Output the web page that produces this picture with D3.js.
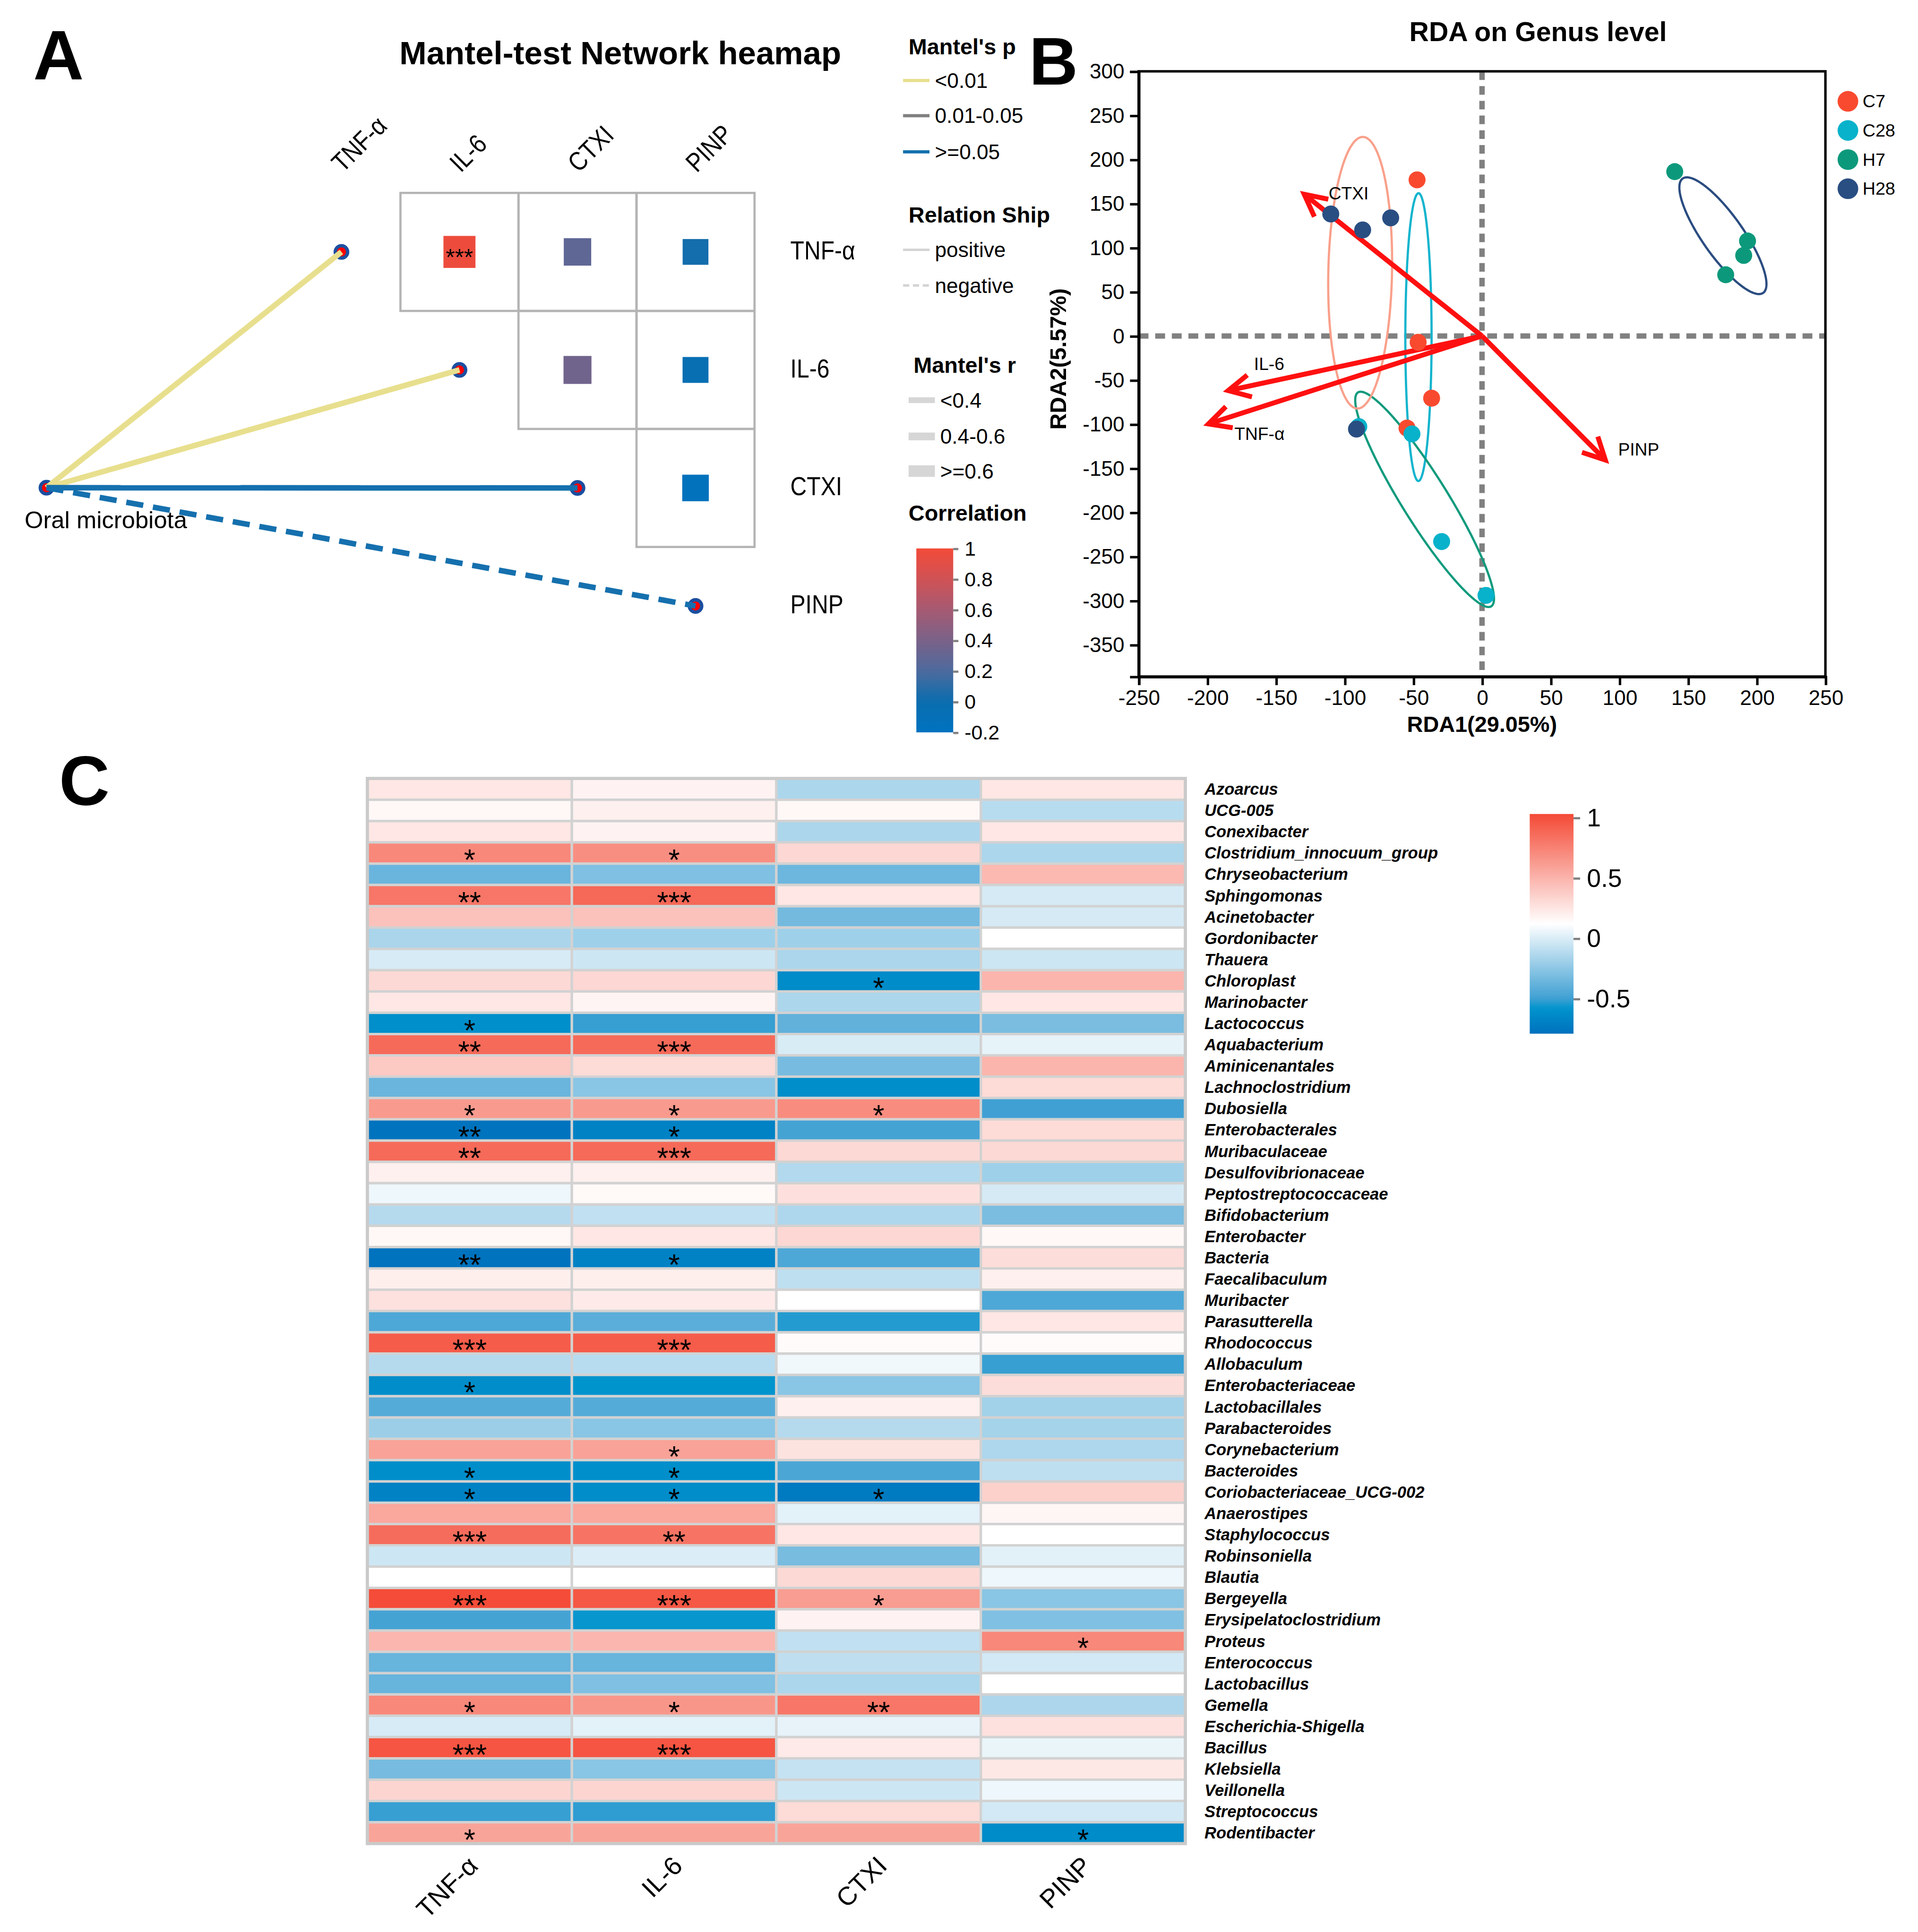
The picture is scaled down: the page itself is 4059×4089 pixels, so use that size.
<!DOCTYPE html>
<html>
<head>
<meta charset="utf-8">
<title>Mantel network, RDA and correlation heatmap</title>
<script src="https://cdn.jsdelivr.net/npm/d3@7/dist/d3.min.js"></script>
<style>
html,body{margin:0;padding:0;background:#ffffff;}
svg{display:block;}
svg text{font-family:"Liberation Sans",Arial,Helvetica,sans-serif;fill:#000;}
</style>
</head>
<body>
<svg id="fig" width="4059" height="4089" viewBox="0 0 1560 1571.5" xmlns="http://www.w3.org/2000/svg"></svg>
<script>
// ================= DATA =================
// ---- Panel A : Mantel-test network heatmap
const mantelVars   = ["TNF-α","IL-6","CTXI","PINP"];
const mantelSource = "Oral microbiota";
const mantelP      = ["<0.01","<0.01",">=0.05",">=0.05"];
const mantelSign   = ["positive","positive","positive","negative"];
const mantelRClass = ["<0.4","<0.4","<0.4","<0.4"];
const pairRow = [0,0,0,1,1,2];
const pairCol = [1,2,3,2,3,3];
const pairR   = [0.97,0.28,0.03,0.36,-0.05,-0.15];
const pairSig = ["***","","","","",""];
const pClasses    = ["<0.01","0.01-0.05",">=0.05"];
const signClasses = ["positive","negative"];
const rClasses    = ["<0.4","0.4-0.6",">=0.6"];
const corrTicksA  = [-0.2,0,0.2,0.4,0.6,0.8,1];

// ---- Panel B : RDA on genus level
const groups      = ["C7","C28","H7","H28"];
const sampleGroup = ["C7","C7","C7","C7","C28","C28","C28","C28","H7","H7","H7","H7","H28","H28","H28","H28"];
const rda1 = [-47.3,-46.5,-36.7,-54.6, -89.7,-51.0,-29.4,2.9, 140.3,193.3,190.5,177.4, -110.1,-86.9,-66.5,-91.4];
const rda2 = [177.0,-7.1,-70.5,-104.4, -102.7,-111.0,-233.0,-294.0, 186.3,107.7,91.3,69.4, 138.3,120.2,133.9,-105.5];
const envNames     = ["CTXI","IL-6","TNF-α","PINP"];
const envRDA1      = [-131.7,-187.6,-201.9,91.8];
const envRDA2      = [163.4,-62.8,-101.0,-143.7];
const envLabelRDA1 = [-111.7,-166.0,-180.3,99.1];
const envLabelRDA2 = [155.0,-38.7,-118.0,-135.4];
const rdaXTicks = [-250,-200,-150,-100,-50,0,50,100,150,200,250];
const rdaYTicks = [-350,-300,-250,-200,-150,-100,-50,0,50,100,150,200,250,300];
const rdaXTitle = "RDA1(29.05%)";
const rdaYTitle = "RDA2(5.57%)";

// ---- Panel C : correlation heatmap
const heatVars = ["TNF-α","IL-6","CTXI","PINP"];
const genera = ["Azoarcus","UCG-005","Conexibacter","Clostridium_innocuum_group","Chryseobacterium","Sphingomonas","Acinetobacter","Gordonibacter","Thauera","Chloroplast","Marinobacter","Lactococcus","Aquabacterium","Aminicenantales","Lachnoclostridium","Dubosiella","Enterobacterales","Muribaculaceae","Desulfovibrionaceae","Peptostreptococcaceae","Bifidobacterium","Enterobacter","Bacteria","Faecalibaculum","Muribacter","Parasutterella","Rhodococcus","Allobaculum","Enterobacteriaceae","Lactobacillales","Parabacteroides","Corynebacterium","Bacteroides","Coriobacteriaceae_UCG-002","Anaerostipes","Staphylococcus","Robinsoniella","Blautia","Bergeyella","Erysipelatoclostridium","Proteus","Enterococcus","Lactobacillus","Gemella","Escherichia-Shigella","Bacillus","Klebsiella","Veillonella","Streptococcus","Rodentibacter"];
const heatTNF  = [0.24,0.155,0.24,0.72,-0.36,0.81,0.43,-0.155,-0.01,0.31,0.24,-0.61,0.87,0.39,-0.36,0.63,-0.78,0.87,0.195,0.065,-0.12,0.155,-0.78,0.2,0.27,-0.45,0.94,-0.12,-0.62,-0.43,-0.2,0.59,-0.615,-0.69,0.56,0.86,-0.045,0.12,1.02,-0.48,0.48,-0.37,-0.37,0.72,-0.013,0.975,-0.32,0.33,-0.51,0.58];
const heatIL6  = [0.18,0.195,0.18,0.69,-0.29,0.88,0.43,-0.19,-0.04,0.32,0.175,-0.51,0.87,0.30,-0.26,0.63,-0.69,0.87,0.195,0.15,-0.08,0.24,-0.69,0.2,0.22,-0.41,0.94,-0.11,-0.58,-0.43,-0.26,0.59,-0.61,-0.62,0.56,0.82,0.004,0.12,0.96,-0.57,0.48,-0.37,-0.29,0.65,0.03,0.975,-0.26,0.33,-0.52,0.58];
const heatCTXI = [-0.15,0.155,-0.15,0.32,-0.35,0.24,-0.33,-0.19,-0.15,-0.634,-0.15,-0.39,-0.005,-0.32,-0.615,0.70,-0.48,0.31,-0.13,0.275,-0.14,0.32,-0.45,-0.09,0.12,-0.534,0.14,0.075,-0.26,0.195,-0.12,0.26,-0.46,-0.736,0.03,0.24,-0.316,0.31,0.62,0.18,-0.08,-0.087,-0.15,0.81,0.042,0.225,-0.067,-0.04,0.30,0.58];
const heatPINP = [0.24,-0.11,0.24,-0.15,0.47,-0.016,-0.016,0.12,-0.045,0.49,0.24,-0.31,0.04,0.49,0.30,-0.497,0.30,0.31,-0.19,-0.016,-0.31,0.155,0.29,0.195,-0.45,0.24,0.14,-0.51,0.29,-0.18,-0.17,-0.14,-0.09,0.35,0.165,0.12,0.026,0.065,-0.26,-0.29,0.72,-0.022,0.12,-0.145,0.27,0.052,0.235,0.065,-0.022,-0.634];
const sigTNF  = ["","","","*","","**","","","","", "","*","**","","","*","**","**","","", "","","**","","","","***","","*","", "","","*","*","","***","","","***","", "","","","*","","***","","","","*"];
const sigIL6  = ["","","","*","","***","","","","", "","","***","","","*","*","***","","", "","","*","","","","***","","","", "","*","*","*","","**","","","***","", "","","","*","","***","","","",""];
const sigCTXI = ["","","","","","","","","","*", "","","","","","*","","","","", "","","","","","","","","","", "","","","*","","","","","*","", "","","","**","","","","","",""];
const sigPINP = ["","","","","","","","","","", "","","","","","","","","","", "","","","","","","","","","", "","","","","","","","","","", "*","","","","","","","","","*"];
const corrTicksC = [-0.5,0,0.5,1];

// ================= DRAWING =================
const svg = d3.select("#fig");
const FF = '"Liberation Sans",Arial,Helvetica,sans-serif';
const defs = svg.append("defs");
const fmt = v => String(+v.toFixed(2));

function label(g, x, y, s, o = {}) {
  const t = g.append("text")
    .attr("x", x).attr("y", y).text(s)
    .attr("font-size", o.size || 16)
    .attr("font-weight", o.weight || "normal")
    .attr("font-style", o.style || "normal")
    .attr("text-anchor", o.anchor || "start");
  if (o.transform) t.attr("transform", o.transform);
  return t;
}

// ---------- Panel letters ----------
label(svg, 27, 64.7, "A", {size: 57, weight: "bold"});
label(svg, 837, 68.6, "B", {size: 55, weight: "bold"});
label(svg, 48, 655, "C", {size: 57, weight: "bold"});

// ---------- Panel A ----------
const gA = svg.append("g");
label(gA, 504.5, 52.2, "Mantel-test Network heamap", {size: 26.5, weight: "bold", anchor: "middle"});

const aX = d3.scaleBand().domain(mantelVars).range([229.7, 613.7]);
const aY = d3.scaleBand().domain(mantelVars).range([156.9, 540.9]);
const abw = aX.bandwidth();
const aColor = d3.scaleLinear()
  .domain([-0.2, 0, 0.2, 0.4, 0.6, 0.8, 1])
  .range(["#0073C0", "#0A6DAE", "#4D6A9E", "#7A6288", "#A65A73", "#D05255", "#F24B39"])
  .clamp(true);
const aSize = d3.scaleLinear().domain([0, 1]).range([20.8, 26.2]);

pairRow.forEach((r, i) => {
  const c = pairCol[i];
  gA.append("rect")
    .attr("x", aX(mantelVars[c])).attr("y", aY(mantelVars[r]))
    .attr("width", abw).attr("height", abw)
    .attr("fill", "none").attr("stroke", "#B4B4B4").attr("stroke-width", 1.8);
});
pairRow.forEach((r, i) => {
  const c = pairCol[i];
  const cx = aX(mantelVars[c]) + abw / 2, cy = aY(mantelVars[r]) + abw / 2;
  const s = aSize(Math.abs(pairR[i]));
  gA.append("rect")
    .attr("x", cx - s / 2).attr("y", cy - s / 2).attr("width", s).attr("height", s)
    .attr("fill", aColor(pairR[i]));
  if (pairSig[i]) {
    label(gA, cx, cy + 0.575 * 19, pairSig[i], {size: 19, anchor: "middle"});
  }
});

mantelVars.forEach(v => {
  const cx = aX(v) + abw / 2 + 1;
  label(gA, 0, 0, v, {size: 21.5, transform: `translate(${cx},141) rotate(-45) scale(0.86,1)`});
  const cy = aY(v) + abw / 2 + 6;
  label(gA, 0, 0, v, {size: 21.5, transform: `translate(642.8,${cy}) scale(0.86,1)`});
});

const pColor = {"<0.01": "#E8DF8E", "0.01-0.05": "#808080", ">=0.05": "#1570AE"};
const rWidth = {"<0.4": 4.5, "0.4-0.6": 6.3, ">=0.6": 9.0};
const srcX = 37.8, srcY = 396.7;
function node(g, x, y) {
  g.append("circle").attr("cx", x).attr("cy", y).attr("r", 5.05)
    .attr("fill", "#FF0000").attr("stroke", "#1B4FA0").attr("stroke-width", 2.7);
}
mantelVars.forEach(v => node(gA, aX(v) + abw / 2, aY(v) + abw / 2));
node(gA, srcX, srcY);
mantelVars.forEach((v, i) => {
  gA.append("line")
    .attr("x1", srcX).attr("y1", srcY)
    .attr("x2", aX(v) + abw / 2).attr("y2", aY(v) + abw / 2)
    .attr("stroke", pColor[mantelP[i]])
    .attr("stroke-width", rWidth[mantelRClass[i]])
    .attr("stroke-dasharray", mantelSign[i] === "negative" ? "14,8" : null);
});
label(gA, 20, 429.5, mantelSource, {size: 19.5});

// legends for A
const lgA = svg.append("g");
label(lgA, 739, 44.3, "Mantel's p", {size: 18, weight: "bold"});
const pY = [65.5, 94.1, 123.5];
pClasses.forEach((p, i) => {
  lgA.append("line").attr("x1", 734.5).attr("x2", 756).attr("y1", pY[i]).attr("y2", pY[i])
    .attr("stroke", pColor[p]).attr("stroke-width", 2.6);
  label(lgA, 760.4, pY[i] + 6, p, {size: 17});
});
label(lgA, 739, 181.2, "Relation Ship", {size: 18, weight: "bold"});
const sY = [203.2, 232.2];
signClasses.forEach((s, i) => {
  lgA.append("line").attr("x1", 734.5).attr("x2", 756).attr("y1", sY[i]).attr("y2", sY[i])
    .attr("stroke", "#D3D3D3").attr("stroke-width", 2)
    .attr("stroke-dasharray", s === "negative" ? "5,3" : null);
  label(lgA, 760.4, sY[i] + 6, s, {size: 17});
});
label(lgA, 743, 303.2, "Mantel's r", {size: 18, weight: "bold"});
const rY = [325.5, 355, 383.2];
const rLegH = [4.7, 6.3, 9.4];
rClasses.forEach((r, i) => {
  lgA.append("rect").attr("x", 739).attr("width", 21.4)
    .attr("y", rY[i] - rLegH[i] / 2).attr("height", rLegH[i]).attr("fill", "#D6D6D6");
  label(lgA, 764.7, rY[i] + 6, r, {size: 17});
});
label(lgA, 739, 423.6, "Correlation", {size: 18, weight: "bold"});

const cbAy = d3.scaleLinear().domain([-0.2, 1]).range([595.7, 446.1]);
const gradA = defs.append("linearGradient").attr("id", "gradA")
  .attr("x1", 0).attr("y1", 1).attr("x2", 0).attr("y2", 0);
d3.range(0, 1.0001, 0.05).forEach(t => {
  const v = -0.2 + 1.2 * t;
  gradA.append("stop").attr("offset", t).attr("stop-color", aColor(v));
});
lgA.append("rect").attr("x", 745.3).attr("y", cbAy(1)).attr("width", 30)
  .attr("height", cbAy(-0.2) - cbAy(1)).attr("fill", "url(#gradA)");
const axA = lgA.append("g").attr("transform", "translate(775.3,0)")
  .call(d3.axisRight(cbAy).tickValues(corrTicksA).tickSize(4.2).tickPadding(5).tickFormat(fmt));
axA.select(".domain").remove();
axA.selectAll(".tick line").attr("stroke", "#808080").attr("stroke-width", 1.8);
axA.selectAll(".tick text").attr("font-size", 16.5).attr("font-family", FF).attr("fill", "#000");

// ---------- Panel B ----------
const gB = svg.append("g");
const bx = d3.scaleLinear().domain([-250, 250]).range([926.1, 1484.7]);
const by = d3.scaleLinear().domain([-386, 300]).range([550.3, 58]);

label(gB, 1251, 33.3, "RDA on Genus level", {size: 22, weight: "bold", anchor: "middle"});

gB.append("line").attr("x1", bx(-250)).attr("x2", bx(250)).attr("y1", by(0)).attr("y2", by(0))
  .attr("stroke", "#808080").attr("stroke-width", 4.4).attr("stroke-dasharray", "8,5.5");
gB.append("line").attr("x1", bx(0)).attr("x2", bx(0)).attr("y1", by(300)).attr("y2", by(-386))
  .attr("stroke", "#808080").attr("stroke-width", 4.4).attr("stroke-dasharray", "7,5");

const ellipseStroke = {"C7": "#12B4CD", "C28": "#0F9A7D", "H7": "#2A4C80", "H28": "#F9A08B"};
function ellipsePts(xs, ys, k) {
  const n = xs.length, mx = d3.mean(xs), my = d3.mean(ys);
  let sxx = 0, syy = 0, sxy = 0;
  for (let i = 0; i < n; i++) {
    const dx = xs[i] - mx, dy = ys[i] - my;
    sxx += dx * dx; syy += dy * dy; sxy += dx * dy;
  }
  sxx /= (n - 1); syy /= (n - 1); sxy /= (n - 1);
  const tr = (sxx + syy) / 2, df = (sxx - syy) / 2, rt = Math.sqrt(df * df + sxy * sxy);
  const l1 = tr + rt, l2 = Math.max(tr - rt, 0);
  let v1 = Math.abs(sxy) > 1e-9 ? [sxy, l1 - sxx] : (sxx >= syy ? [1, 0] : [0, 1]);
  const len = Math.hypot(v1[0], v1[1]); v1 = [v1[0] / len, v1[1] / len];
  const v2 = [-v1[1], v1[0]];
  const a = k * Math.sqrt(l1), b = k * Math.sqrt(l2);
  return d3.range(0, 360, 2).map(deg => {
    const t = deg * Math.PI / 180;
    return [mx + a * Math.cos(t) * v1[0] + b * Math.sin(t) * v2[0],
            my + a * Math.cos(t) * v1[1] + b * Math.sin(t) * v2[1]];
  });
}
const ellLine = d3.line().x(d => bx(d[0])).y(d => by(d[1])).curve(d3.curveLinearClosed);
groups.forEach(gname => {
  const idx = sampleGroup.map((g, i) => g === gname ? i : -1).filter(i => i >= 0);
  const pts = ellipsePts(idx.map(i => rda1[i]), idx.map(i => rda2[i]), 1.3);
  gB.append("path").attr("d", ellLine(pts)).attr("fill", "none")
    .attr("stroke", ellipseStroke[gname]).attr("stroke-width", 1.8);
});

const arrowRed = "#FF1010";
envNames.forEach((nm, i) => {
  const x0 = bx(0), y0 = by(0), x1 = bx(envRDA1[i]), y1 = by(envRDA2[i]);
  const ang = Math.atan2(y1 - y0, x1 - x0);
  const tipX = x1 - 3.2 * Math.cos(ang), tipY = y1 - 3.2 * Math.sin(ang);
  gB.append("line").attr("x1", x0).attr("y1", y0).attr("x2", tipX).attr("y2", tipY)
    .attr("stroke", arrowRed).attr("stroke-width", 4);
  const L = 20, h = 27 * Math.PI / 180, back = ang + Math.PI;
  const w1 = [tipX + L * Math.cos(back + h), tipY + L * Math.sin(back + h)];
  const w2 = [tipX + L * Math.cos(back - h), tipY + L * Math.sin(back - h)];
  gB.append("path").attr("d", `M${w1[0]},${w1[1]}L${tipX},${tipY}L${w2[0]},${w2[1]}`)
    .attr("fill", "none").attr("stroke", arrowRed).attr("stroke-width", 4)
    .attr("stroke-linejoin", "miter").attr("stroke-miterlimit", 10);
});

const groupColor = {"C7": "#F94A2F", "C28": "#07B2CA", "H7": "#0C997B", "H28": "#294E82"};
gB.selectAll("circle.pt").data(d3.range(rda1.length)).enter().append("circle")
  .attr("class", "pt")
  .attr("cx", i => bx(rda1[i])).attr("cy", i => by(rda2[i])).attr("r", 6.9)
  .attr("fill", i => groupColor[sampleGroup[i]]);

envNames.forEach((nm, i) => {
  label(gB, bx(envLabelRDA1[i]), by(envLabelRDA2[i]), nm, {size: 14.3});
});

gB.append("rect").attr("x", bx(-250)).attr("y", by(300))
  .attr("width", bx(250) - bx(-250)).attr("height", by(-386) - by(300))
  .attr("fill", "none").attr("stroke", "#000").attr("stroke-width", 2);
const axBx = gB.append("g").attr("transform", `translate(0,${by(-386)})`)
  .call(d3.axisBottom(bx).tickValues(rdaXTicks).tickSize(7).tickPadding(4).tickFormat(d => String(d)));
const axBy = gB.append("g").attr("transform", `translate(${bx(-250)},0)`)
  .call(d3.axisLeft(by).tickValues(rdaYTicks).tickSize(7).tickPadding(4.5).tickFormat(d => String(d)));
[axBx, axBy].forEach(ax => {
  ax.select(".domain").attr("stroke", "#000").attr("stroke-width", 2);
  ax.selectAll(".tick line").attr("stroke", "#000").attr("stroke-width", 2);
  ax.selectAll(".tick text").attr("font-size", 17).attr("font-family", FF).attr("fill", "#000");
});
label(gB, 1205.4, 595.5, rdaXTitle, {size: 18, weight: "bold", anchor: "middle"});
label(gB, 0, 0, rdaYTitle, {size: 18.5, weight: "bold", anchor: "middle", transform: "translate(867,292) rotate(-90)"});

const legBY = [82.4, 106.1, 129.8, 153.5];
groups.forEach((gname, i) => {
  gB.append("circle").attr("cx", 1503).attr("cy", legBY[i]).attr("r", 8.4).attr("fill", groupColor[gname]);
  label(gB, 1514.9, legBY[i] + 5, gname, {size: 14.5});
});

// ---------- Panel C ----------
const gC = svg.append("g");
const hx = d3.scaleBand().domain(heatVars).range([298.8, 964.1]);
const hy = d3.scaleBand().domain(genera).range([633.2, 1499.6]);
const hColor = d3.scaleLinear()
  .domain([-0.79, -0.58, -0.5, 0.12, 1.03])
  .range(["#0071BD", "#0094CD", "#3FA0D3", "#FFFFFF", "#F44A36"])
  .clamp(true);
const heatVals = [heatTNF, heatIL6, heatCTXI, heatPINP];
const heatSig  = [sigTNF, sigIL6, sigCTXI, sigPINP];
const cells = [];
heatVars.forEach((v, j) => genera.forEach((g, i) => cells.push({v, g, r: heatVals[j][i], s: heatSig[j][i]})));
gC.selectAll("rect.cell").data(cells).enter().append("rect")
  .attr("class", "cell")
  .attr("x", d => hx(d.v)).attr("y", d => hy(d.g))
  .attr("width", hx.bandwidth()).attr("height", hy.bandwidth())
  .attr("fill", d => hColor(d.r)).attr("stroke", "#D2D2D2").attr("stroke-width", 2);
gC.append("rect").attr("x", 298.8).attr("y", 633.2).attr("width", 964.1 - 298.8).attr("height", 1499.6 - 633.2)
  .attr("fill", "none").attr("stroke", "#CACACA").attr("stroke-width", 2.6);

// significance marks: one text element per column, one tspan per significant cell
const starSize = 24;
heatVars.forEach((v, j) => {
  const t = gC.append("text").attr("font-size", starSize).attr("text-anchor", "middle");
  genera.forEach((g, i) => {
    const s = heatSig[j][i];
    if (!s) return;
    t.append("tspan")
      .attr("x", hx(v) + hx.bandwidth() / 2)
      .attr("y", hy(g) + hy.bandwidth() / 2 + 0.575 * starSize)
      .text(s);
  });
});

genera.forEach(g => {
  label(gC, 979.7, hy(g) + hy.bandwidth() / 2 + 4.6, g, {size: 13.3, weight: "bold", style: "italic"});
});
heatVars.forEach(v => {
  const ax = hx(v) + hx.bandwidth() / 2 + 8;
  label(gC, 0, 0, v, {size: 21, anchor: "end", transform: `translate(${ax},1519) rotate(-45)`});
});

const cbCy = d3.scaleLinear().domain([-0.79, 1.03]).range([840.8, 662.1]);
const gradC = defs.append("linearGradient").attr("id", "gradC")
  .attr("x1", 0).attr("y1", 1).attr("x2", 0).attr("y2", 0);
d3.range(0, 1.0001, 0.02).forEach(t => {
  const v = -0.79 + 1.82 * t;
  gradC.append("stop").attr("offset", t).attr("stop-color", hColor(v));
});
gC.append("rect").attr("x", 1244.2).attr("y", cbCy(1.03)).attr("width", 35.6)
  .attr("height", cbCy(-0.79) - cbCy(1.03)).attr("fill", "url(#gradC)");
const axC = gC.append("g").attr("transform", "translate(1279.8,0)")
  .call(d3.axisRight(cbCy).tickValues(corrTicksC).tickSize(5.4).tickPadding(5.5).tickFormat(fmt));
axC.select(".domain").remove();
axC.selectAll(".tick line").attr("stroke", "#808080").attr("stroke-width", 1.8);
axC.selectAll(".tick text").attr("font-size", 20.5).attr("font-family", FF).attr("fill", "#000");
</script>
</body>
</html>
